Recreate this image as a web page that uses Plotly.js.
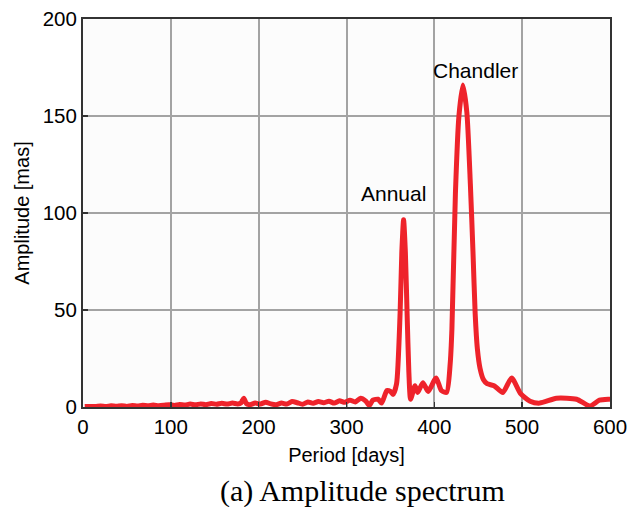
<!DOCTYPE html>
<html>
<head>
<meta charset="utf-8">
<script src="https://cdn.plot.ly/plotly-3.0.1.min.js"></script>
<style>
html,body{margin:0;padding:0;background:#fff;}
#chart{width:627px;height:507px;}
</style>
</head>
<body>
<div id="chart"></div>
<script>
// Period [days]
const period = [2,8,14,20,26,32,38,44,50,56,62,68,74,80,86,92,98,104,110,116,122,128,134,140,146,152,158,164,170,176,180,183,186,190,196,202,208,214,220,226,232,238,244,250,256,262,268,274,280,286,292,298,304,310,316,322,326,330,336,340,346,350,353,357,361,363,365,367,369,371,373,378,381,387,393,402,408,414,418,420,424,428,432.5,437,441,444,446.5,449,452,456,460,468,478,488,498,509,520,539,562,577,588,598,600];
// Amplitude [mas]
const amplitude = [0.2,0.3,0.2,0.5,0.3,0.6,0.4,0.7,0.3,0.8,0.5,0.9,0.6,1.0,0.7,0.9,1.2,0.8,1.3,1.0,1.5,1.1,1.6,1.2,1.8,1.4,1.9,1.5,2.0,1.6,2.2,4.5,1.8,1.2,2.0,1.5,2.5,1.6,1.2,2.0,1.5,2.8,2.2,1.4,2.6,1.9,2.8,2.2,3.0,2.0,3.2,2.4,3.5,2.6,4.5,3.0,0.8,3.5,4.0,2.0,8.5,8.0,6.5,12,48,80,96.5,80,48,18,4,11,7.5,12.5,8,15,8.5,7.5,22,40,110,150,166,152,115,80,48,30,20,14,12,11,7.5,15,7,3,2,4.5,4,0.5,3.5,4,4];

const annotationsText = ["Annual","Chandler"];

const sans = 'Liberation Sans, Arial, sans-serif';

const trace = {
  x: period, y: amplitude, type: 'scatter', mode: 'lines',
  line: {color: '#ee232b', width: 5, shape: 'spline', smoothing: 0.6},
  hoverinfo: 'skip'
};

const axisCommon = {
  showline: true, mirror: true, linecolor: '#333333', linewidth: 2,
  showgrid: true, gridcolor: '#a3a3a3', gridwidth: 2,
  zeroline: false, ticks: 'inside', ticklen: 5, tickcolor: '#333333', tickwidth: 1.5,
  ticklabeloverflow: 'allow',
  tickfont: {family: sans, size: 20.5, color: '#000'}
};

const layout = {
  width: 627, height: 507,
  margin: {l: 83, r: 17, t: 19, b: 100},
  paper_bgcolor: '#ffffff', plot_bgcolor: '#fcfcfc',
  showlegend: false,
  xaxis: Object.assign({}, axisCommon, {
    range: [0, 600], tickvals: [0,100,200,300,400,500,600],
    title: {text: 'Period [days]', font: {family: sans, size: 20, color: '#000'}, standoff: 11}
  }),
  yaxis: Object.assign({}, axisCommon, {
    range: [0, 200], tickvals: [0,50,100,150,200],
    title: {text: 'Amplitude [mas]', font: {family: sans, size: 20, color: '#000'}, standoff: 8}
  }),
  annotations: [
    {x: 354, y: 110, xref: 'x', yref: 'y', text: annotationsText[0], showarrow: false,
     font: {family: sans, size: 21, color: '#000'}},
    {x: 447, y: 173.5, xref: 'x', yref: 'y', text: annotationsText[1], showarrow: false,
     font: {family: sans, size: 21, color: '#000'}},
    {x: 0.53, y: -0.2165, xref: 'paper', yref: 'paper', text: '(a) Amplitude spectrum', showarrow: false,
     yanchor: 'middle', font: {family: 'Liberation Serif, Times New Roman, serif', size: 30, color: '#000'}}
  ]
};

Plotly.newPlot('chart', [trace], layout, {displayModeBar: false, staticPlot: true});
</script>
</body>
</html>
